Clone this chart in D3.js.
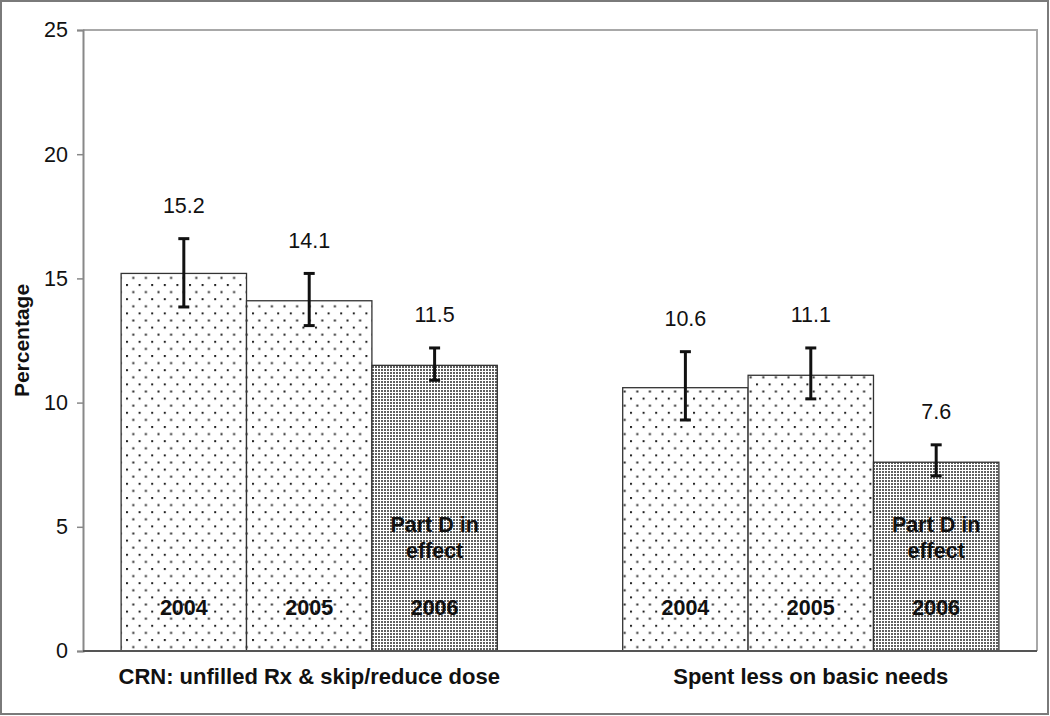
<!DOCTYPE html>
<html>
<head>
<meta charset="utf-8">
<script src="https://cdn.jsdelivr.net/npm/d3@7"></script>
<style>
html,body{margin:0;padding:0;background:#fff;}
svg{display:block;font-family:"Liberation Sans",Arial,sans-serif;}
</style>
</head>
<body>
<svg id="chart" width="1050" height="716"></svg>
<script>
// ---- data ----
const categories = ["CRN: unfilled Rx & skip/reduce dose", "Spent less on basic needs"];
const years = ["2004", "2005", "2006"];
const values = [[15.2, 14.1, 11.5], [10.6, 11.1, 7.6]];
const errLow = [[13.85, 13.1, 10.9], [9.3, 10.15, 7.05]];
const errHigh = [[16.6, 15.2, 12.2], [12.05, 12.2, 8.3]];
const yTicks = [0, 5, 10, 15, 20, 25];
const partDLabel = ["Part D in", "effect"];
const yTitle = "Percentage";

const svg = d3.select("#chart");
const W = 1050, H = 716;
const m = {left: 83, right: 13, top: 30, bottom: 65};

// outer border
svg.append("rect").attr("x", 1).attr("y", 1).attr("width", W - 3).attr("height", H - 3)
  .attr("fill", "#fff").attr("stroke", "#7a7a7a").attr("stroke-width", 2);

// patterns
const defs = svg.append("defs");
const p1 = defs.append("pattern").attr("id", "lightDots").attr("patternUnits", "userSpaceOnUse")
  .attr("width", 12.6).attr("height", 14.2);
p1.append("rect").attr("width", 12.6).attr("height", 14.2).attr("fill", "#fff");
p1.append("rect").attr("x", 0).attr("y", 0).attr("width", 2).attr("height", 2).attr("fill", "#222");
p1.append("rect").attr("x", 6.3).attr("y", 7.1).attr("width", 2).attr("height", 2).attr("fill", "#222");
const p2 = defs.append("pattern").attr("id", "denseDots").attr("patternUnits", "userSpaceOnUse")
  .attr("width", 3).attr("height", 3);
p2.append("rect").attr("width", 3).attr("height", 3).attr("fill", "#fff");
p2.append("rect").attr("x", 0).attr("y", 0).attr("width", 2).attr("height", 2).attr("fill", "#606060");

const x0 = d3.scaleBand().domain(categories).range([m.left, W - m.right])
  .paddingInner(0.25).paddingOuter(0.076);
const x1 = d3.scaleBand().domain(years).range([0, x0.bandwidth()]).padding(0);
const y = d3.scaleLinear().domain([0, 25]).range([H - m.bottom, m.top]);

// plot frame (top/right gray lines)
svg.append("path")
  .attr("d", `M${m.left},${y(25)}H${W - m.right}V${y(0)}`)
  .attr("fill", "none").attr("stroke", "#a8a8a8").attr("stroke-width", 2);

// bars
const rows = [];
categories.forEach((c, ci) => years.forEach((yr, yi) => rows.push({
  c, yr, ci, yi, v: values[ci][yi], lo: errLow[ci][yi], hi: errHigh[ci][yi]
})));

const g = svg.append("g");
g.selectAll("rect.bar").data(rows).join("rect").attr("class", "bar")
  .attr("x", d => x0(d.c) + x1(d.yr))
  .attr("y", d => y(d.v))
  .attr("width", x1.bandwidth())
  .attr("height", d => y(0) - y(d.v))
  .attr("fill", d => d.yr === "2006" ? "url(#denseDots)" : "url(#lightDots)")
  .attr("stroke", "#333").attr("stroke-width", 1.3);

// error bars
const eb = g.selectAll("g.err").data(rows).join("g").attr("class", "err")
  .attr("transform", d => `translate(${x0(d.c) + x1(d.yr) + x1.bandwidth() / 2},0)`);
eb.append("line").attr("y1", d => y(d.lo)).attr("y2", d => y(d.hi))
  .attr("stroke", "#111").attr("stroke-width", 3);
eb.append("line").attr("x1", -5.5).attr("x2", 5.5).attr("y1", d => y(d.hi)).attr("y2", d => y(d.hi))
  .attr("stroke", "#111").attr("stroke-width", 3);
eb.append("line").attr("x1", -5.5).attr("x2", 5.5).attr("y1", d => y(d.lo)).attr("y2", d => y(d.lo))
  .attr("stroke", "#111").attr("stroke-width", 3);

// value labels
g.selectAll("text.val").data(rows).join("text").attr("class", "val")
  .attr("x", d => x0(d.c) + x1(d.yr) + x1.bandwidth() / 2)
  .attr("y", d => y(d.hi) - 33)
  .attr("dy", "0.35em")
  .attr("text-anchor", "middle").attr("font-size", 21.5).attr("fill", "#111")
  .text(d => d3.format(".1f")(d.v));

// year labels inside bars
g.selectAll("text.yr").data(rows).join("text").attr("class", "yr")
  .attr("x", d => x0(d.c) + x1(d.yr) + x1.bandwidth() / 2)
  .attr("y", y(0) - 44).attr("dy", "0.35em")
  .attr("text-anchor", "middle").attr("font-size", 21.5).attr("font-weight", "bold").attr("fill", "#111")
  .text(d => d.yr);

// Part D labels
const pd = rows.filter(d => d.yr === "2006");
pd.forEach(d => {
  partDLabel.forEach((t, i) => {
    g.append("text")
      .attr("x", x0(d.c) + x1(d.yr) + x1.bandwidth() / 2)
      .attr("y", y(0) - 127 + i * 26).attr("dy", "0.35em")
      .attr("text-anchor", "middle").attr("font-size", 21.5).attr("font-weight", "bold").attr("fill", "#111")
      .text(t);
  });
});

// y axis
const yAxis = svg.append("g").attr("transform", `translate(${m.left},0)`)
  .call(d3.axisLeft(y).tickValues(yTicks).tickSize(6).tickPadding(9));
yAxis.select(".domain").attr("stroke", "#888").attr("stroke-width", 2);
yAxis.selectAll(".tick line").attr("stroke", "#888").attr("stroke-width", 1.5);
yAxis.selectAll(".tick text").attr("font-size", 21.5).attr("fill", "#111")
  .attr("font-family", "Liberation Sans, Arial, sans-serif");

// x axis line
svg.append("line").attr("x1", m.left).attr("x2", W - m.right)
  .attr("y1", y(0)).attr("y2", y(0)).attr("stroke", "#555").attr("stroke-width", 2);

// category labels
svg.selectAll("text.cat").data(categories).join("text").attr("class", "cat")
  .attr("x", d => x0(d) + x0.bandwidth() / 2)
  .attr("y", y(0) + 25).attr("dy", "0.35em")
  .attr("text-anchor", "middle").attr("font-size", 22).attr("font-weight", "bold").attr("fill", "#111")
  .text(d => d);

// y title
svg.append("text")
  .attr("transform", `translate(22,${(y(0) + y(25)) / 2}) rotate(-90)`)
  .attr("dy", "0.35em").attr("text-anchor", "middle")
  .attr("font-size", 21).attr("font-weight", "bold").attr("fill", "#111")
  .text(yTitle);
</script>
</body>
</html>
